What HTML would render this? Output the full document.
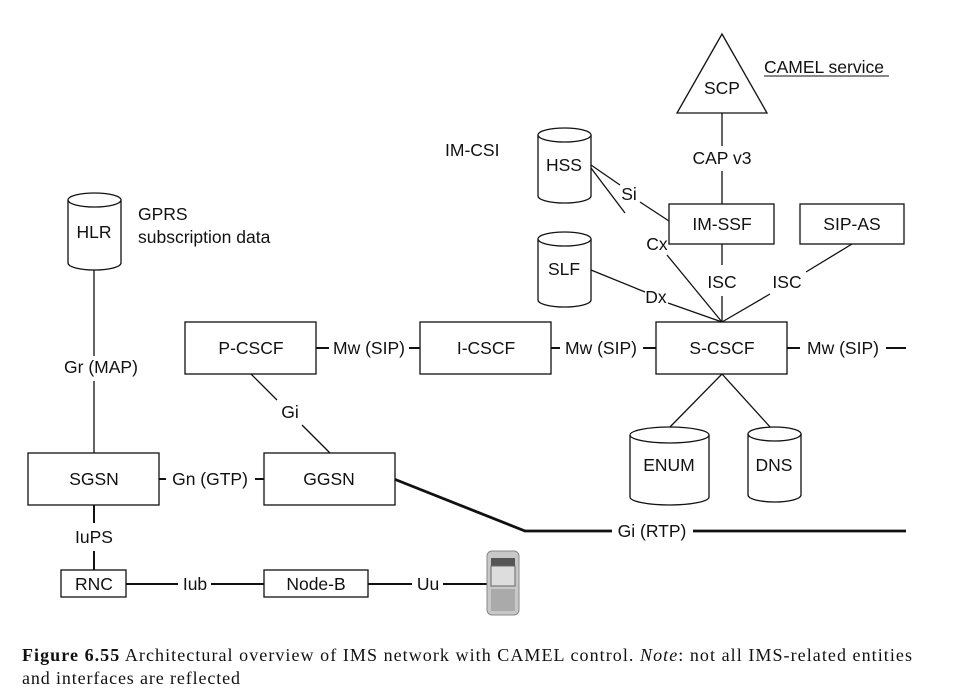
<!DOCTYPE html>
<html><head><meta charset="utf-8"><style>
html,body{margin:0;padding:0;background:#fff;}
svg{display:block;}
text{font-family:"Liberation Sans",sans-serif;font-size:17.5px;fill:#111;}
.cap{font-family:"Liberation Serif",serif;font-size:18px;}
</style></head><body>
<svg width="958" height="700" viewBox="0 0 958 700" xmlns="http://www.w3.org/2000/svg">
<g stroke="#111" stroke-width="1.3" fill="none">
<polygon points="722,34 677,113 767,113" fill="#fff"/>
<line x1="722" y1="113" x2="722" y2="146"/>
<line x1="722" y1="171" x2="722" y2="204"/>
<line x1="722" y1="244" x2="722" y2="265"/>
<line x1="722" y1="296" x2="722" y2="322"/>
<line x1="852" y1="244" x2="806" y2="272"/>
<line x1="770" y1="294" x2="722" y2="322"/>
<line x1="591" y1="165" x2="620" y2="185"/>
<line x1="640" y1="202" x2="669" y2="221"/>
<line x1="591" y1="168" x2="625" y2="213"/>
<line x1="667" y1="255" x2="722" y2="322"/>
<line x1="591" y1="270" x2="645" y2="292"/>
<line x1="668" y1="303" x2="722" y2="322"/>
<line x1="94" y1="270" x2="94" y2="356"/>
<line x1="94" y1="381" x2="94" y2="453"/>
<line x1="251" y1="374" x2="277" y2="400"/>
<line x1="302" y1="425" x2="330" y2="453"/>
<line x1="722" y1="374" x2="669" y2="428"/>
<line x1="722" y1="374" x2="771" y2="428"/>
</g>
<g stroke="#111" stroke-width="2" fill="none">
<line x1="316" y1="348" x2="329" y2="348"/>
<line x1="409" y1="348" x2="420" y2="348"/>
<line x1="551" y1="348" x2="560" y2="348"/>
<line x1="643" y1="348" x2="656" y2="348"/>
<line x1="787" y1="348" x2="800" y2="348"/>
<line x1="886" y1="348" x2="906" y2="348"/>
<line x1="159" y1="479" x2="166" y2="479"/>
<line x1="255" y1="479" x2="264" y2="479"/>
<line x1="94" y1="505" x2="94" y2="523"/>
<line x1="94" y1="551" x2="94" y2="570"/>
<line x1="126" y1="584" x2="178" y2="584"/>
<line x1="211" y1="584" x2="264" y2="584"/>
<line x1="368" y1="584" x2="412" y2="584"/>
<line x1="443" y1="584" x2="488" y2="584"/>
</g>
<g stroke="#111" stroke-width="2.8" fill="none">
<polyline points="394,479 525,531 612,531"/>
<line x1="693" y1="531" x2="906" y2="531"/>
</g>
<g stroke="#111" stroke-width="1.3" fill="#fff">
<rect x="669" y="204" width="105" height="40"/>
<rect x="800" y="204" width="104" height="40"/>
<rect x="185" y="322" width="131" height="52"/>
<rect x="420" y="322" width="131" height="52"/>
<rect x="656" y="322" width="131" height="52"/>
<rect x="28" y="453" width="131" height="52"/>
<rect x="264" y="453" width="131" height="52"/>
<rect x="61" y="570" width="65" height="27"/>
<rect x="264" y="570" width="104" height="27"/>
</g>
<g stroke="#111" stroke-width="1.3" fill="#fff">
<path d="M68,200 A26.5,7 0 0 1 121,200 L121,263 A26.5,7 0 0 1 68,263 Z"/><path d="M68,200 A26.5,7 0 0 0 121,200"/>
<path d="M538,135 A26.5,7 0 0 1 591,135 L591,196 A26.5,7 0 0 1 538,196 Z"/><path d="M538,135 A26.5,7 0 0 0 591,135"/>
<path d="M538,239 A26.5,7 0 0 1 591,239 L591,300 A26.5,7 0 0 1 538,300 Z"/><path d="M538,239 A26.5,7 0 0 0 591,239"/>
<path d="M630,435 A39.5,8 0 0 1 709,435 L709,497 A39.5,8 0 0 1 630,497 Z"/><path d="M630,435 A39.5,8 0 0 0 709,435"/>
<path d="M748,434 A26.5,7 0 0 1 801,434 L801,495 A26.5,7 0 0 1 748,495 Z"/><path d="M748,434 A26.5,7 0 0 0 801,434"/>
</g>
<g>
<rect x="487" y="551" width="32" height="64" rx="5" fill="#c8c8c8" stroke="#888"/>
<rect x="491" y="558" width="24" height="8" fill="#555"/>
<rect x="491" y="566" width="24" height="20" fill="#ddd" stroke="#666"/>
<rect x="491" y="589" width="24" height="22" fill="#aaa"/>
</g>
<g text-anchor="middle">
<text x="722" y="94">SCP</text>
<text x="722" y="164">CAP v3</text>
<text x="722" y="230">IM-SSF</text>
<text x="852" y="230">SIP-AS</text>
<text x="722" y="288">ISC</text>
<text x="787" y="288">ISC</text>
<text x="629" y="200">Si</text>
<text x="657" y="250">Cx</text>
<text x="656" y="303">Dx</text>
<text x="564" y="171">HSS</text>
<text x="564" y="275">SLF</text>
<text x="94" y="238">HLR</text>
<text x="669" y="471">ENUM</text>
<text x="774" y="471">DNS</text>
<text x="251" y="354">P-CSCF</text>
<text x="486" y="354">I-CSCF</text>
<text x="722" y="354">S-CSCF</text>
<text x="369" y="354">Mw (SIP)</text>
<text x="601" y="354">Mw (SIP)</text>
<text x="843" y="354">Mw (SIP)</text>
<text x="101" y="373">Gr (MAP)</text>
<text x="290" y="418">Gi</text>
<text x="94" y="485">SGSN</text>
<text x="329" y="485">GGSN</text>
<text x="210" y="485">Gn (GTP)</text>
<text x="94" y="543">IuPS</text>
<text x="94" y="590">RNC</text>
<text x="316" y="590">Node-B</text>
<text x="195" y="590">Iub</text>
<text x="428" y="590">Uu</text>
<text x="652" y="537">Gi (RTP)</text>
</g>
<text x="445" y="156">IM-CSI</text>
<text x="138" y="220">GPRS</text>
<text x="138" y="243">subscription data</text>
<text x="764" y="73">CAMEL service</text>
<line x1="764" y1="76" x2="889" y2="76" stroke="#111" stroke-width="1"/>
<text class="cap" x="22" y="661" textLength="890" lengthAdjust="spacing"><tspan font-weight="bold">Figure 6.55</tspan>  Architectural overview of IMS network with CAMEL control. <tspan font-style="italic">Note</tspan>: not all IMS-related entities</text>
<text class="cap" x="22" y="684" textLength="218" lengthAdjust="spacing">and interfaces are reflected</text>
</svg>
</body></html>
